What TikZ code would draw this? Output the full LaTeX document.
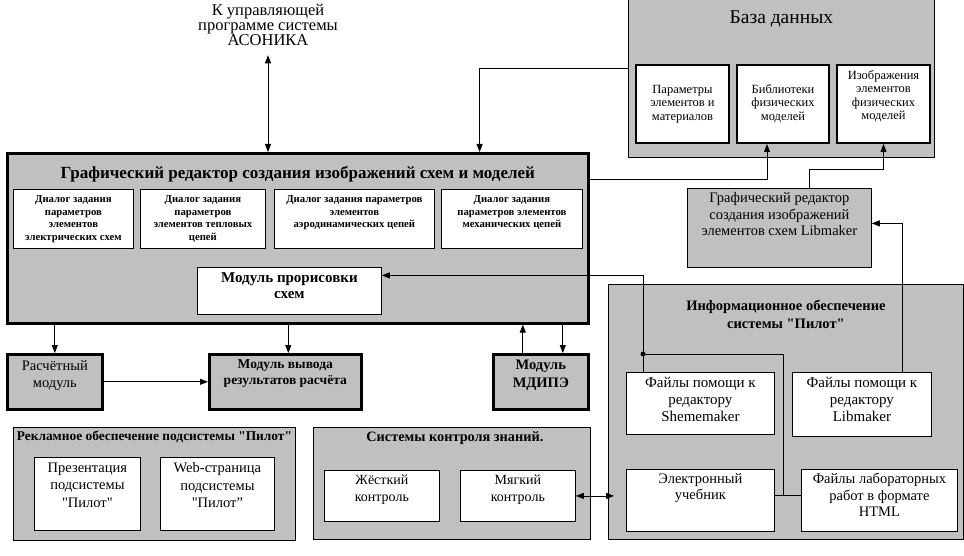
\documentclass[tikz,border=0pt]{standalone}
\usepackage{fontspec}
\setmainfont{Liberation Serif}[Ligatures=TeXOff]
\usetikzlibrary{arrows.meta}
\definecolor{panelgray}{HTML}{C0C0C0}

\begin{document}
\begin{tikzpicture}[x=1pt, y=-1pt,
    panel/.style={draw, fill=panelgray, line width=0.8pt, anchor=north west, inner sep=0pt},
    heavypanel/.style={panel, line width=2.6pt},
    card/.style={draw, fill=white, line width=0.8pt, anchor=north west, inner sep=0pt},
    heavycard/.style={card, line width=2pt},
    txt/.style={align=center, inner sep=0pt, anchor=north},
    link/.style={line width=0.8pt},
    arr/.style={link, -{Triangle[length=8pt,width=6pt]}},
    dblarr/.style={link, {Triangle[length=8pt,width=6pt]}-{Triangle[length=8pt,width=6pt]}}]

    \useasboundingbox (0,0) rectangle (964,556);

    % Выход на управляющую программу
    \node[txt, font=\fontsize{16.5}{15.2}\selectfont] (asonika) at (268,4) {К управляющей\\программе системы\\АСОНИКА};

    % База данных
    \node[panel, minimum width=306, minimum height=160] (db) at (628,-3) {};
    \node[txt, font=\fontsize{19.5}{20}\selectfont] at ([yshift=-14pt]db.north) {База данных};
    \foreach \nm/\x/\w in {dbPar/635/93, dbLib/736/92, dbImg/836/93}
        \node[heavycard, minimum width=\w, minimum height=78] (\nm) at (\x,64) {};
    \node[txt, font=\fontsize{12.5}{13.6}\selectfont] at ([yshift=-21pt]dbPar.north) {Параметры\\элементов и\\материалов};
    \node[txt, font=\fontsize{12.5}{13.6}\selectfont] at ([yshift=-20pt]dbLib.north) {Библиотеки\\физических\\моделей};
    \node[txt, font=\fontsize{12.5}{13.6}\selectfont] at ([yshift=-6pt]dbImg.north) {Изображения\\элементов\\физических\\моделей};

    % Графический редактор схем
    \node[heavypanel, minimum width=581, minimum height=170] (editor) at (6,152) {};
    \node[txt, font=\bfseries\fontsize{17}{17}\selectfont] at ([yshift=-14pt]editor.north) {Графический редактор создания изображений схем и моделей};
    \foreach \nm/\x/\w/\txt in {dlgEl/13/120/{Диалог задания\\параметров\\элементов\\электрических схем},
                               dlgHeat/140/125/{Диалог задания\\параметров\\элементов тепловых\\цепей},
                               dlgAero/274/160/{Диалог задания параметров\\элементов\\аэродинамических цепей},
                               dlgMech/441/141/{Диалог задания\\параметров элементов\\механических цепей}} {
        \node[card, minimum width=\w, minimum height=59] (\nm) at (\x,189) {};
        \node[txt, font=\bfseries\fontsize{10.7}{12.8}\selectfont] at ([yshift=-6pt]\nm.north) {\txt};
    }
    \node[card, minimum width=184, minimum height=47] (drawmod) at (197,267) {};
    \node[txt, font=\bfseries\fontsize{15}{16.7}\selectfont] at ([yshift=-5pt]drawmod.north) {Модуль прорисовки\\схем};

    % Модули под редактором
    \node[heavypanel, minimum width=95, minimum height=55] (calc) at (6,353) {};
    \node[txt, font=\fontsize{14.5}{17.4}\selectfont] at ([yshift=-7pt]calc.north) {Расчётный\\модуль};
    \node[heavypanel, minimum width=152, minimum height=55] (result) at (208,353) {};
    \node[txt, font=\bfseries\fontsize{13.5}{16}\selectfont] at ([yshift=-6pt]result.north) {Модуль вывода\\результатов расчёта};
    \node[heavypanel, minimum width=95, minimum height=55] (mdipe) at (492,353) {};
    \node[txt, font=\bfseries\fontsize{14.5}{17.4}\selectfont] at ([yshift=-7pt]mdipe.north) {Модуль\\МДИПЭ};

    % Рекламное обеспечение
    \node[panel, minimum width=282, minimum height=113] (promo) at (13,427) {};
    \node[txt, font=\bfseries\fontsize{13.4}{14}\selectfont] at ([yshift=-4pt]promo.north) {Рекламное обеспечение подсистемы "Пилот"};
    \node[card, minimum width=106, minimum height=73] (pres) at (34,457) {};
    \node[txt, font=\fontsize{14.5}{17.5}\selectfont] at ([yshift=-5.5pt]pres.north) {Презентация\\подсистемы\\"Пилот"};
    \node[card, minimum width=114, minimum height=73] (web) at (160,457) {};
    \node[txt, font=\fontsize{14.5}{17.5}\selectfont] at ([yshift=-5.5pt]web.north) {Web-страница\\подсистемы\\"Пилот”};

    % Системы контроля знаний
    \node[panel, minimum width=277, minimum height=112] (quiz) at (313,427) {};
    \node[txt, font=\bfseries\fontsize{14.3}{15}\selectfont] at ([xshift=3pt,yshift=-4pt]quiz.north) {Системы контроля знаний.};
    \node[card, minimum width=115, minimum height=51] (hard) at (324,470) {};
    \node[txt, font=\fontsize{14}{16.7}\selectfont] at ([yshift=-5pt]hard.north) {Жёсткий\\контроль};
    \node[card, minimum width=115, minimum height=51] (soft) at (460,470) {};
    \node[txt, font=\fontsize{14}{16.7}\selectfont] at ([yshift=-5pt]soft.north) {Мягкий\\контроль};

    % Информационное обеспечение
    \node[panel, minimum width=355, minimum height=255] (info) at (608,284) {};
    \node[txt, font=\bfseries\fontsize{14.5}{17.7}\selectfont] at ([yshift=-16pt]info.north) {Информационное обеспечение\\системы "Пилот"};
    \node[card, minimum width=148, minimum height=62] (shm) at (626,372) {};
    \node[txt, font=\fontsize{15}{17}\selectfont] at ([yshift=-5.5pt]shm.north) {Файлы помощи к\\редактору\\Shememaker};
    \node[card, minimum width=139, minimum height=64] (libh) at (792,372) {};
    \node[txt, font=\fontsize{15}{17}\selectfont] at ([yshift=-5.5pt]libh.north) {Файлы помощи к\\редактору\\Libmaker};
    \node[card, minimum width=148, minimum height=62] (tb) at (626,469) {};
    \node[txt, font=\fontsize{14.5}{16.7}\selectfont] at ([yshift=-4pt]tb.north) {Электронный\\учебник};
    \node[card, minimum width=156, minimum height=62] (html) at (801,469) {};
    \node[txt, font=\fontsize{14.5}{16.7}\selectfont] at ([yshift=-4pt]html.north) {Файлы лабораторных\\работ в формате\\HTML};

    % Редактор Libmaker
    \node[panel, minimum width=184, minimum height=79] (libedit) at (687,188) {};
    \node[txt, font=\fontsize{14.5}{16.4}\selectfont] at ([yshift=-4.5pt]libedit.north) {Графический редактор\\создания изображений\\элементов схем Libmaker};

    % Связи
    \draw[dblarr] ([yshift=-9pt]asonika.south) -- (asonika.south |- editor.north);
    \draw[arr] ([yshift=9pt]db.west) -| ([xshift=-110pt]editor.north east);
    \draw[arr] ([yshift=-27pt]editor.north east) -| ([xshift=-16pt]dbLib.south);
    \draw[arr] ([xshift=30pt]libedit.north) |- ([yshift=-25pt]dbImg.south) -- (dbImg.south);
    \draw[arr] ([xshift=110pt]libh.north west) |- ([yshift=4.5pt]libedit.east);
    \draw[arr] ([xshift=17pt]shm.north west) |- ([yshift=15.5pt]drawmod.east);
    \coordinate (junc) at ([xshift=17pt,yshift=18pt]shm.north west);
    \coordinate (tap) at ([xshift=9pt,yshift=5pt]tb.east);
    \draw[link] (junc) -| (tap);
    \draw[link] ([yshift=5pt]tb.east) -- ([yshift=5pt]tb.east -| html.west);
    \fill (junc) circle (2.5pt);
    \draw[dblarr] (soft.east) -- ([xshift=-12pt]soft.east -| tb.west);
    \draw[arr] (calc.north |- editor.south) -- (calc.north);
    \draw[arr] ([xshift=3pt]result.north |- editor.south) -- ([xshift=3pt]result.north);
    \draw[arr] ([xshift=-18pt]mdipe.north) -- ([xshift=-18pt]mdipe.north |- editor.south);
    \draw[arr] ([xshift=22pt]mdipe.north |- editor.south) -- ([xshift=22pt]mdipe.north);
    \draw[arr] (calc.east) -- (result.west);

\end{tikzpicture}
\end{document}
